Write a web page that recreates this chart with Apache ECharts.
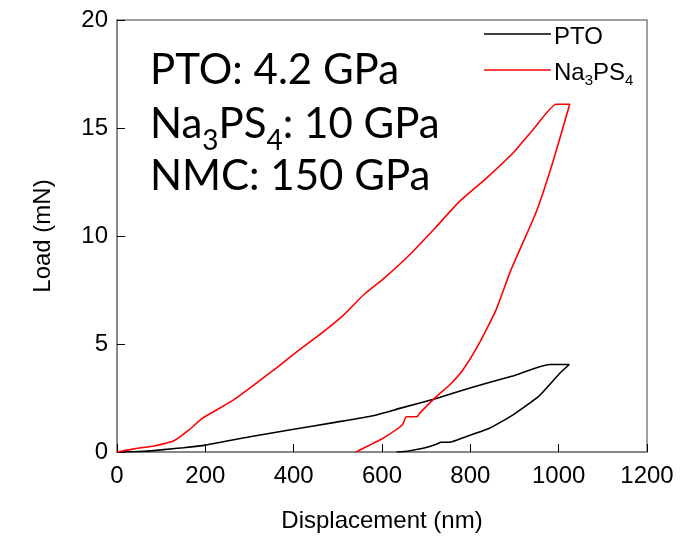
<!DOCTYPE html>
<html>
<head>
<meta charset="utf-8">
<script src="https://cdn.jsdelivr.net/npm/echarts@6/dist/echarts.min.js"></script>
<style>html,body{margin:0;padding:0;background:#fff}#c{width:697px;height:539px}</style>
</head>
<body>
<div id="c"></div>
<script>
// Data (displacement in nm, load in mN)
var ptoDisp = [0, 50, 100, 150, 200, 301, 400, 490, 580, 640, 723, 805, 896, 979, 1024, 1001, 956, 896, 843, 790, 753, 734, 723, 693, 660, 633];
var ptoLoad = [0, 0.02, 0.1, 0.2, 0.32, 0.71, 1.05, 1.36, 1.68, 2.02, 2.48, 3.0, 3.52, 4.05, 4.05, 3.61, 2.6, 1.71, 1.1, 0.71, 0.45, 0.45, 0.36, 0.17, 0.05, 0];
var nasDisp = [0, 46, 84, 129, 163, 193, 264, 355, 407, 453, 513, 558, 605, 662, 723, 775, 836, 896, 941, 994, 1025, 986, 948, 892, 858, 820, 783, 753, 723, 685, 679, 655, 646, 602, 580, 541];
var nasLoad = [0, 0.17, 0.28, 0.52, 1.02, 1.56, 2.41, 3.8, 4.64, 5.34, 6.34, 7.27, 8.05, 9.12, 10.43, 11.59, 12.67, 13.83, 14.9, 16.1, 16.1, 13.37, 11.05, 8.43, 6.57, 5.03, 3.8, 3.1, 2.56, 1.79, 1.63, 1.63, 1.25, 0.63, 0.4, 0];
var seriesNames = ['PTO', 'Na3PS4'];
var xTicks = [0, 200, 400, 600, 800, 1000, 1200];
var yTicks = [0, 5, 10, 15, 20];

function pairs(xs, ys) { return xs.map(function (x, i) { return [x, ys[i]]; }); }

var chart = echarts.init(document.getElementById('c'));
var axisFont = 'Liberation Sans, Arial, sans-serif';
chart.setOption({
  animation: false,
  grid: { left: 117, right: 50, top: 20, bottom: 87, show: true, borderColor: '#808080', borderWidth: 1.5 },
  xAxis: {
    type: 'value', min: xTicks[0], max: xTicks[xTicks.length - 1], interval: 200,
    name: 'Displacement (nm)', nameLocation: 'middle', nameGap: 57,
    nameTextStyle: { fontFamily: axisFont, fontSize: 24, color: '#000' },
    axisLine: { lineStyle: { color: '#808080', width: 1.5 } },
    axisTick: { inside: true, length: 8, lineStyle: { color: '#000' } },
    axisLabel: { fontFamily: axisFont, fontSize: 24, color: '#000', margin: 12, formatter: function (v) { return String(v); } },
    splitLine: { show: false }
  },
  yAxis: {
    type: 'value', min: yTicks[0], max: yTicks[yTicks.length - 1], interval: 5,
    name: 'Load (mN)', nameLocation: 'middle', nameGap: 62, nameRotate: 90,
    nameTextStyle: { fontFamily: axisFont, fontSize: 24, color: '#000' },
    axisLine: { show: true, lineStyle: { color: '#808080', width: 1.5 } },
    axisTick: { show: true, inside: true, length: 8, lineStyle: { color: '#000' } },
    axisLabel: { fontFamily: axisFont, fontSize: 24, color: '#000', margin: 9, formatter: function (v) { return String(v); } },
    splitLine: { show: false }
  },
  legend: {
    orient: 'vertical', left: 479, top: 20, itemGap: 12,
    itemWidth: 67, itemHeight: 1.6, icon: 'rect',
    data: seriesNames,
    formatter: function (n) { return n === 'Na3PS4' ? '{n|Na}{s|3}{n|PS}{s|4}' : '{n|PTO}'; },
    textStyle: {
      padding: [0, 0, 0, -2],
      rich: {
        n: { fontFamily: axisFont, fontSize: 24, color: '#000', lineHeight: 30, verticalAlign: 'bottom' },
        s: { fontFamily: axisFont, fontSize: 15, color: '#000', lineHeight: 30, verticalAlign: 'bottom', padding: [0, 0, -3, 0] }
      }
    }
  },
  graphic: [
    { type: 'text', left: 150, top: 49, style: { text: 'PTO: 4.2 GPa', fontFamily: 'Lato', fontSize: 42, fill: '#000' } },
    { type: 'text', left: 150, top: 103, style: { text: '{m|Na}{b|3}{m|PS}{b|4}{m|: 10 GPa}', fill: '#000',
        rich: { m: { fontFamily: 'Lato', fontSize: 42, lineHeight: 50, verticalAlign: 'bottom' }, b: { fontFamily: 'Lato', fontSize: 28, lineHeight: 50, verticalAlign: 'bottom', padding: [0, 0, -10, 0] } } } },
    { type: 'text', left: 150, top: 155, style: { text: 'NMC: 150 GPa', fontFamily: 'Lato', fontSize: 42, fill: '#000' } }
  ],
  series: [
    { name: seriesNames[0], type: 'line', data: pairs(ptoDisp, ptoLoad), showSymbol: false, symbol: 'none', smooth: 0.15,
      lineStyle: { color: '#000', width: 1.6 }, itemStyle: { color: '#000' } },
    { name: seriesNames[1], type: 'line', data: pairs(nasDisp, nasLoad), showSymbol: false, symbol: 'none', smooth: 0.15,
      lineStyle: { color: '#ff0000', width: 1.6 }, itemStyle: { color: '#ff0000' } }
  ]
});
</script>
</body>
</html>
